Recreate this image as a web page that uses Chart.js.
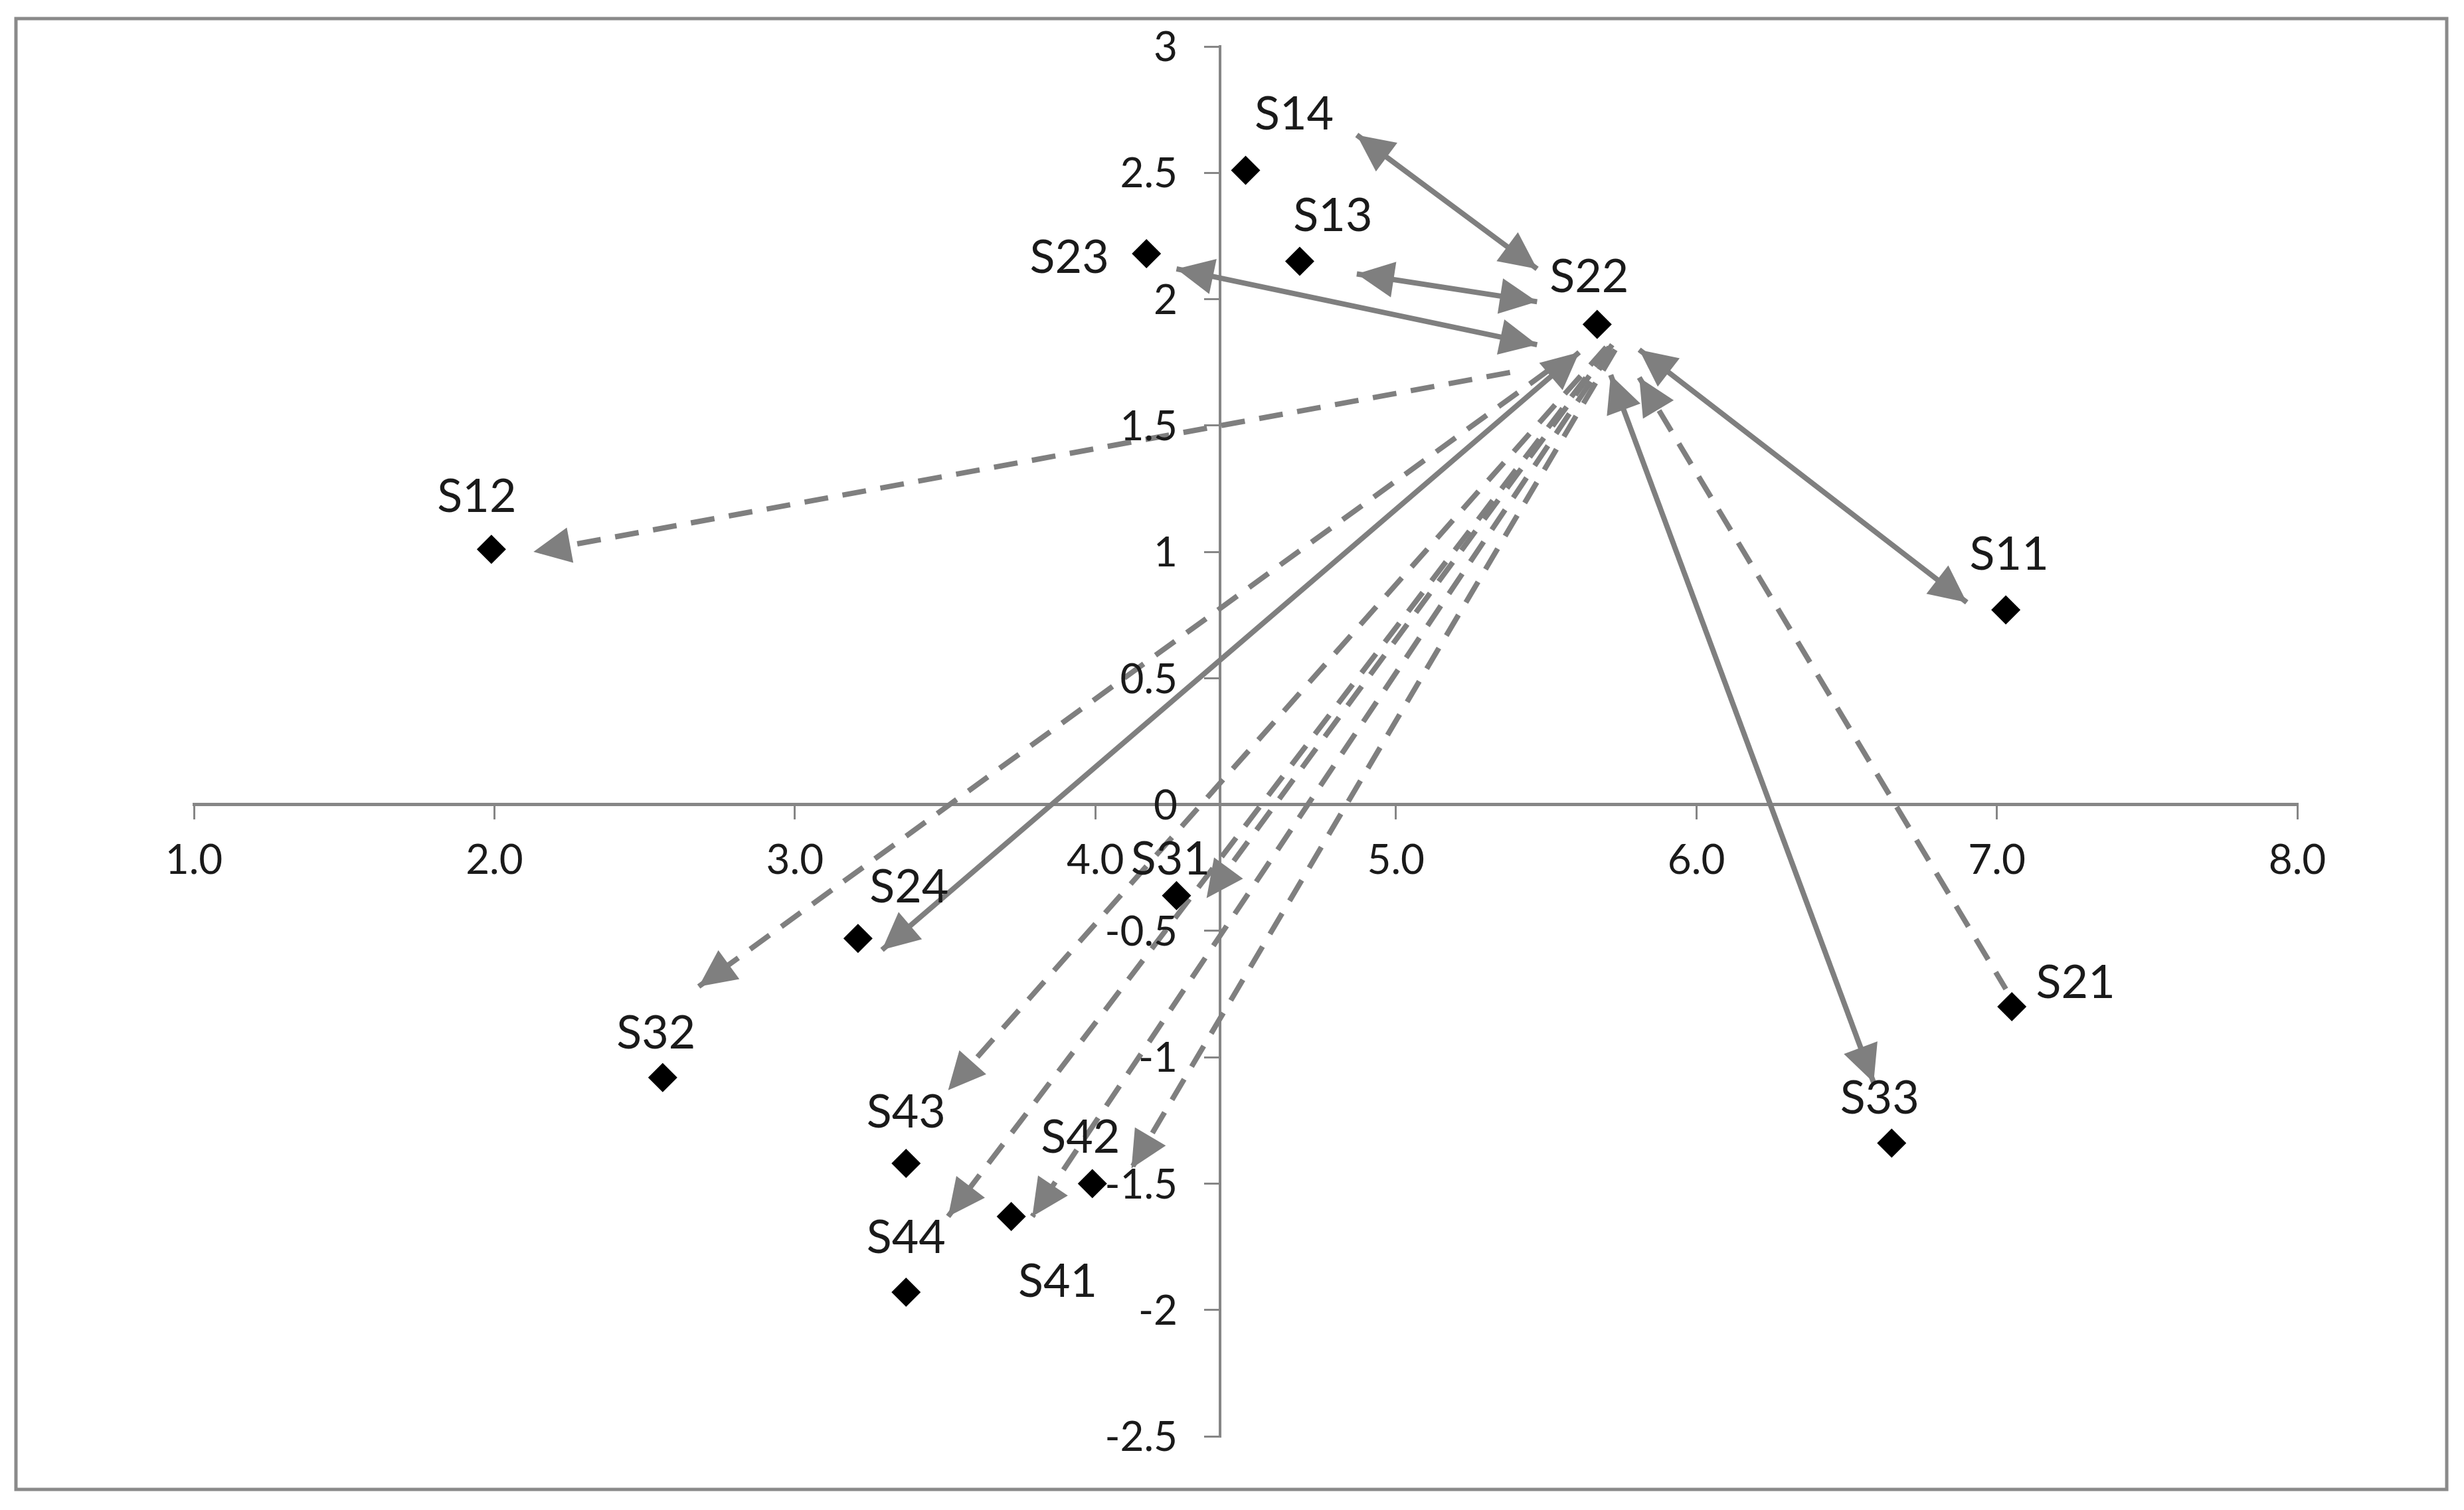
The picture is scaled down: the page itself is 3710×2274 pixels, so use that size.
<!DOCTYPE html>
<html>
<head>
<meta charset="utf-8">
<script src="https://cdn.jsdelivr.net/npm/chart.js@4.4.1/dist/chart.umd.min.js"></script>
<style>
  html, body { margin: 0; padding: 0; background: #fff; }
  canvas { display: block; }
</style>
</head>
<body>
<canvas id="myChart" width="3710" height="2274"></canvas>
<script>
// the points
const names   = ['S11', 'S12', 'S13', 'S14', 'S21', 'S22', 'S23', 'S24', 'S31', 'S32', 'S33', 'S41', 'S42', 'S43', 'S44'];
const xValues = [7.03, 1.99, 4.68, 4.50, 7.05, 5.67, 4.17, 3.21, 4.27, 2.56, 6.65, 3.72, 3.99, 3.37, 3.37];
const yValues = [0.77, 1.01, 2.15, 2.51, -0.80, 1.90, 2.18, -0.53, -0.36, -1.08, -1.34, -1.63, -1.50, -1.42, -1.93];

// axes
const xTickValues = [1, 2, 3, 4, 5, 6, 7, 8];
const xTickLabels = ['1.0', '2.0', '3.0', '4.0', '5.0', '6.0', '7.0', '8.0'];
const yTickValues = [3, 2.5, 2, 1.5, 1, 0.5, 0, -0.5, -1, -1.5, -2, -2.5];
const yTickLabels = ['3', '2.5', '2', '1.5', '1', '0.5', '0', '-0.5', '-1', '-1.5', '-2', '-2.5'];
const yAxisCrossesAt = 4.415;

// arrows, S22 side first, other end second (data units)
const arrowTarget = ['S14', 'S13', 'S23', 'S12', 'S11', 'S33', 'S21', 'S24', 'S32', 'S43', 'S44', 'S41', 'S42', 'S31'];
const arrowFrom = [
  [5.47, 2.12], [5.47, 1.99], [5.47, 1.82], [5.38, 1.71], [5.81, 1.80], [5.715, 1.70], [5.81, 1.69],
  [5.61, 1.79], [5.51, 1.72], [5.70, 1.81], [5.71, 1.81], [5.72, 1.80], [5.73, 1.80], [5.72, 1.82]
];
const arrowTo = [
  [4.87, 2.65], [4.87, 2.10], [4.27, 2.12], [2.13, 1.00], [6.90, 0.80], [6.59, -1.10], [7.03, -0.73],
  [3.29, -0.575], [2.68, -0.72], [3.51, -1.13], [3.51, -1.63], [3.79, -1.63], [4.12, -1.44], [4.37, -0.37]
];
const arrowLink  = ['solid', 'solid', 'solid', 'dashed', 'solid', 'solid', 'dashed', 'solid', 'dashed', 'dashed', 'dashed', 'dashed', 'dashed', 'dashed'];
const arrowHeads = ['both', 'both', 'both', 'to', 'both', 'both', 'from', 'both', 'to', 'to', 'to', 'to', 'to', 'to'];

// look
const grey = '#7f7f7f';
const axisGrey = '#868686';
const textColor = '#1a1a1a';
const fontFamily = 'Lato, "Liberation Sans", sans-serif';
const labelSize = 70;
const tickSize = 62;
const headLen = 56, headWidth = 54;

// where each label sits relative to its point, in px
const labelNudge = {
  S11: [5, -86], S12: [-22, -81], S13: [50, -71], S14: [73, -87], S21: [96, -38],
  S22: [-12, -74], S23: [-116, 4], S24: [77, -79], S31: [-9, -57], S32: [-10, -69],
  S33: [-18, -70], S41: [70, 96], S42: [-18, -72], S43: [0, -79], S44: [0, -84]
};

const framePlugin = {
  id: 'frame',
  beforeDraw(chart) {
    const c = chart.ctx;
    c.save();
    c.fillStyle = '#fff';
    c.fillRect(0, 0, chart.width, chart.height);
    c.strokeStyle = '#8a8a8a';
    c.lineWidth = 5;
    c.strokeRect(24, 28, 3660, 2215);
    c.restore();
  }
};

// y labels sit left of the crossing axis, chart.js puts them on the line
const yLabelPlugin = {
  id: 'yLabels',
  afterDraw(chart) {
    const xs = chart.scales.x, ys = chart.scales.y;
    const c = chart.ctx;
    const ax = xs.getPixelForValue(yAxisCrossesAt);
    c.save();
    c.font = tickSize + 'px ' + fontFamily;
    c.fillStyle = textColor;
    c.textAlign = 'right';
    c.textBaseline = 'alphabetic';
    yTickValues.forEach((v, i) => {
      c.fillText(yTickLabels[i], ax - 64, ys.getPixelForValue(v) + tickSize * 0.358);
    });
    c.restore();
  }
};

function drawHead(c, tip, back) {
  const dx = tip.x - back.x, dy = tip.y - back.y;
  const len = Math.hypot(dx, dy);
  const ux = dx / len, uy = dy / len;
  const bx = tip.x - ux * headLen, by = tip.y - uy * headLen;
  c.beginPath();
  c.moveTo(tip.x, tip.y);
  c.lineTo(bx - uy * headWidth / 2, by + ux * headWidth / 2);
  c.lineTo(bx + uy * headWidth / 2, by - ux * headWidth / 2);
  c.closePath();
  c.fill();
}

const arrowHeadPlugin = {
  id: 'arrowHeads',
  afterDatasetsDraw(chart) {
    const xs = chart.scales.x, ys = chart.scales.y;
    const c = chart.ctx;
    c.save();
    c.fillStyle = grey;
    for (let i = 0; i < arrowFrom.length; i++) {
      const a = { x: xs.getPixelForValue(arrowFrom[i][0]), y: ys.getPixelForValue(arrowFrom[i][1]) };
      const b = { x: xs.getPixelForValue(arrowTo[i][0]), y: ys.getPixelForValue(arrowTo[i][1]) };
      if (arrowHeads[i] === 'both' || arrowHeads[i] === 'to') drawHead(c, b, a);
      if (arrowHeads[i] === 'both' || arrowHeads[i] === 'from') drawHead(c, a, b);
    }
    c.restore();
  }
};

const pointLabelPlugin = {
  id: 'pointLabels',
  afterDatasetsDraw(chart) {
    const meta = chart.getDatasetMeta(0);
    const c = chart.ctx;
    c.save();
    c.font = labelSize + 'px ' + fontFamily;
    c.fillStyle = textColor;
    c.textAlign = 'center';
    c.textBaseline = 'alphabetic';
    meta.data.forEach((pt, i) => {
      const n = labelNudge[names[i]] || [0, -80];
      c.fillText(names[i], pt.x + n[0], pt.y + n[1] + labelSize * 0.358);
    });
    c.restore();
  }
};

const arrowSets = arrowFrom.map((f, i) => ({
  label: 'S22-' + arrowTarget[i],
  data: [{ x: f[0], y: f[1] }, { x: arrowTo[i][0], y: arrowTo[i][1] }],
  showLine: true,
  borderColor: grey,
  borderWidth: 8,
  borderCapStyle: 'butt',
  borderDash: arrowLink[i] === 'dashed' ? [36, 22] : [],
  pointRadius: 0,
  pointHoverRadius: 0,
  order: 1
}));

const ctx = document.getElementById('myChart');
new Chart(ctx, {
  type: 'scatter',
  data: {
    datasets: [{
      label: 'points',
      data: names.map((n, i) => ({ x: xValues[i], y: yValues[i] })),
      pointStyle: 'rectRot',
      pointRadius: 22,
      pointHoverRadius: 22,
      backgroundColor: '#000',
      borderWidth: 0,
      order: 0
    }].concat(arrowSets)
  },
  options: {
    responsive: false,
    animation: false,
    events: [],
    devicePixelRatio: 1,
    layout: { padding: { left: 292, right: 251, top: 70, bottom: 111 } },
    plugins: { legend: { display: false }, tooltip: { enabled: false } },
    scales: {
      x: {
        type: 'linear',
        min: 1, max: 8,
        position: { y: 0 },
        afterBuildTicks: s => { s.ticks = xTickValues.map(v => ({ value: v })); },
        ticks: {
          callback: (v, i) => xTickLabels[i],
          font: { family: fontFamily, size: tickSize },
          color: textColor,
          padding: 27,
          maxRotation: 0,
          autoSkip: false
        },
        grid: { drawOnChartArea: false, drawTicks: true, tickLength: 20, color: axisGrey, lineWidth: 3 },
        border: { display: true, color: axisGrey, width: 5 }
      },
      y: {
        type: 'linear',
        min: -2.5, max: 3,
        position: { x: yAxisCrossesAt },
        afterBuildTicks: s => { s.ticks = yTickValues.map(v => ({ value: v })); },
        ticks: {
          display: false,
          autoSkip: false
        },
        grid: { drawOnChartArea: false, drawTicks: true, tickLength: 22, color: axisGrey, lineWidth: 3 },
        border: { display: true, color: axisGrey, width: 4 }
      }
    }
  },
  plugins: [framePlugin, arrowHeadPlugin, pointLabelPlugin, yLabelPlugin]
});
</script>
</body>
</html>
